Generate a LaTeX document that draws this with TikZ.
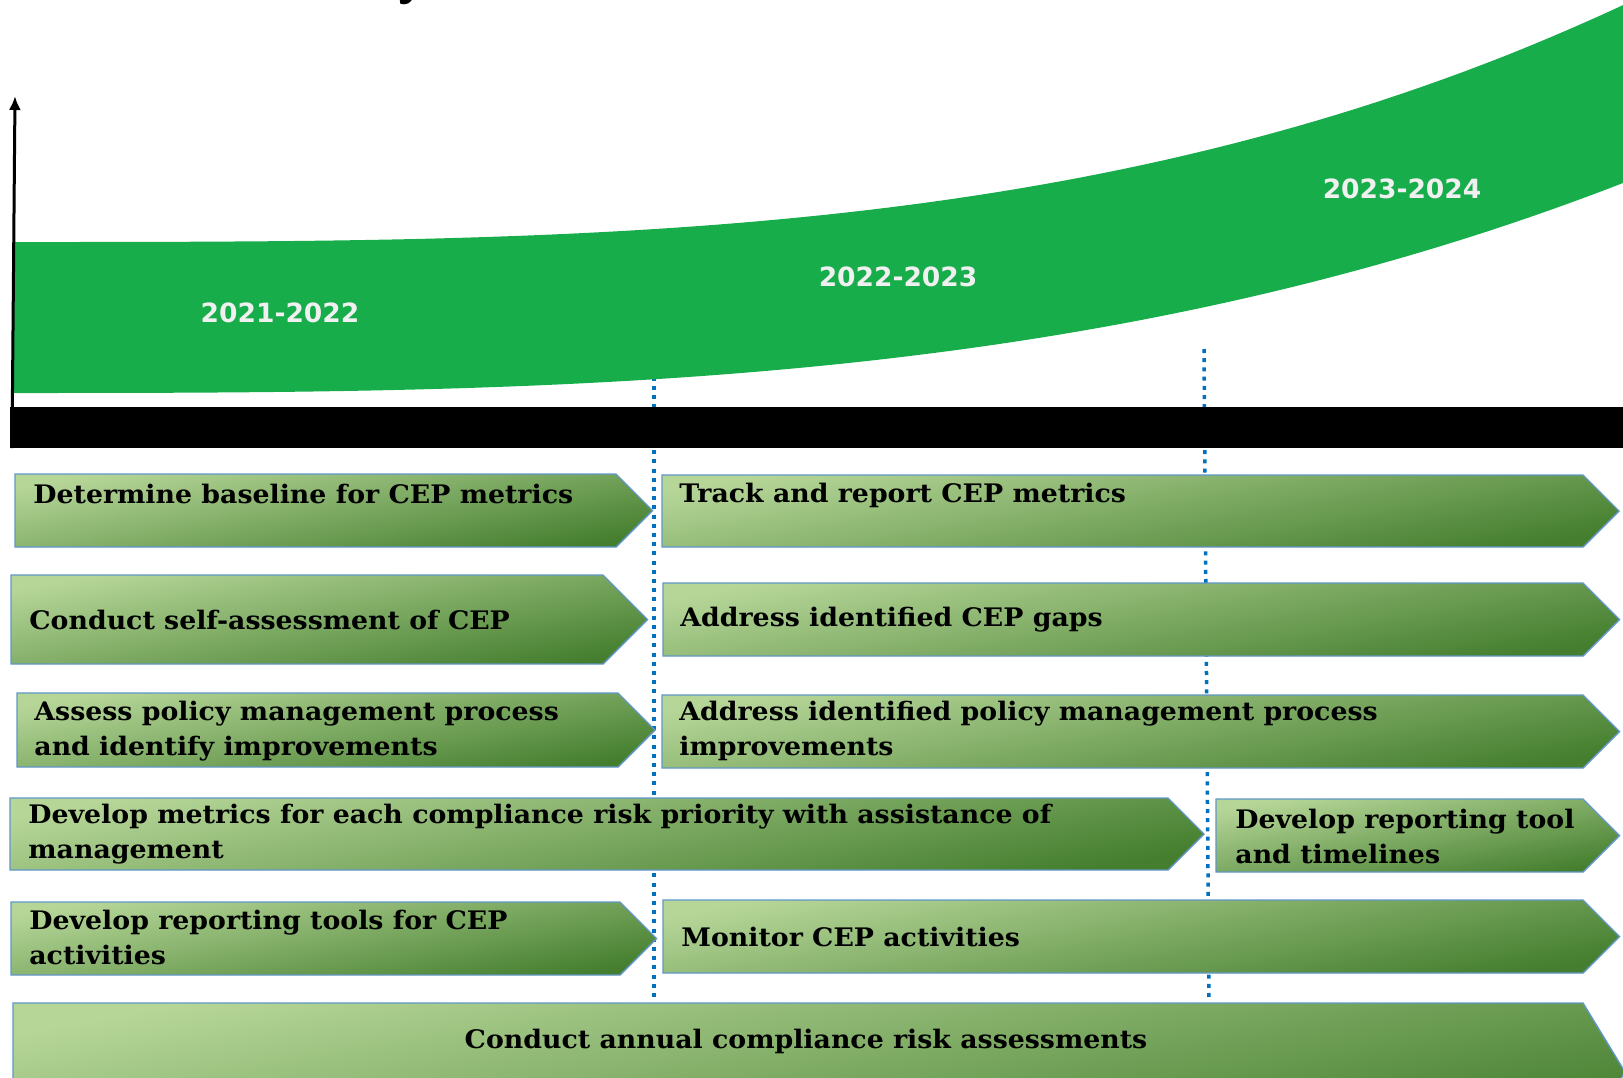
\documentclass[tikz,border=0pt]{standalone}
\usepackage{fontspec}
\setmainfont{DejaVu Serif}[FakeStretch=1.05]
\newfontfamily\yearfont{DejaVu Sans}
\usetikzlibrary{arrows.meta}

\definecolor{bandgreen}{RGB}{23,173,75}
\definecolor{boxlight}{RGB}{182,214,152}
\definecolor{boxdark}{RGB}{68,126,46}
\definecolor{boxedge}{RGB}{96,150,200}
\definecolor{dotblue}{RGB}{0,112,192}
\definecolor{yearwhite}{RGB}{240,240,240}

% left, top, end of body, bottom (pointer is half the height)
\newcommand{\stagearrow}[4]{%
  \path[stage] (#1,#2) -- (#3,#2) -- ({#3+(#4-#2)/2},{(#2+#4)/2}) -- (#3,#4) -- (#1,#4) -- cycle;%
}

\tikzset{
  stage/.style={draw=boxedge, line width=0.7pt, top color=boxlight, bottom color=boxdark, shading angle=10},
  task/.style={anchor=west, inner sep=0pt, align=left, text=black,
    font=\fontsize{12.75}{17.5}\selectfont\bfseries},
  year/.style={text=yearwhite, font=\yearfont\fontsize{13.25}{16}\selectfont\bfseries},
  period/.style={dotblue, line width=1.75pt, dash pattern=on 2pt off 2.6pt},
}

\begin{document}
\begin{tikzpicture}[x=0.5pt,y=-0.5pt]
  \useasboundingbox (0,0) rectangle (1623,1077);
  \node[anchor=base, font=\sffamily\bfseries\fontsize{25}{30}\selectfont] (title) at (411,-6) {y};

  % year separators
  \draw[period] (654,349) -- (654,1000);
  \draw[period] (1204,349) -- (1209,1000);

  % growth band
  \fill[bandgreen] (13,393) -- plot[domain=13:1700,samples=80] (\x,{242-237*(\x/1623)^3.2})
    -- plot[domain=1700:13,samples=80] (\x,{393-210*(\x/1623)^3}) -- cycle;
  \node[year] (y21) at (280,313) {2021-2022};
  \node[year] (y22) at (898,277) {2022-2023};
  \node[year] (y23) at (1402,189) {2023-2024};

  % time axis
  \fill (10,407) rectangle (1623,448);
  \draw[line width=1.5pt,-{Latex[length=7pt,width=6pt]}] (12,448) -- (15,96);

  % first year
  \stagearrow{15}{474}{616}{547}
  \node[task] (baseline) at (33,494) {Determine baseline for CEP metrics};
  \stagearrow{11}{575}{603}{664}
  \node[task] (selfassess) at (29,620) {Conduct self-assessment of CEP};
  \stagearrow{17}{693}{618}{767}
  \node[task] (policy) at (34,731) {Assess policy management process\\and identify improvements};
  \stagearrow{10}{798}{1168}{870}
  \node[task] (metrics) at (28,834) {Develop metrics for each compliance risk priority with assistance of\\management};
  \stagearrow{11}{902}{620}{975}
  \node[task] (tools) at (29,937) {Develop reporting tools for CEP\\activities};

  % following years
  \stagearrow{662}{475}{1583}{547}
  \node[task] (track) at (679,495) {Track and report CEP metrics};
  \stagearrow{663}{583}{1583}{656}
  \node[task] (gaps) at (680,620) {Address identified CEP gaps};
  \stagearrow{662}{695}{1583}{768}
  \node[task] (policyfix) at (679,731) {Address identified policy management process\\improvements};
  \stagearrow{1216}{799}{1583}{872}
  \node[task] (reptool) at (1235,836) {Develop reporting tool\\and timelines};
  \stagearrow{663}{900}{1583}{973}
  \node[task] (monitor) at (681,937) {Monitor CEP activities};

  % runs across all years
  \path[stage] (13,1003) -- (1583,1003) -- (1625,1072) -- (1583,1141) -- (13,1141) -- cycle;
  \node[task,anchor=center] (annual) at (806,1041) {Conduct annual compliance risk assessments};
\end{tikzpicture}
\end{document}
